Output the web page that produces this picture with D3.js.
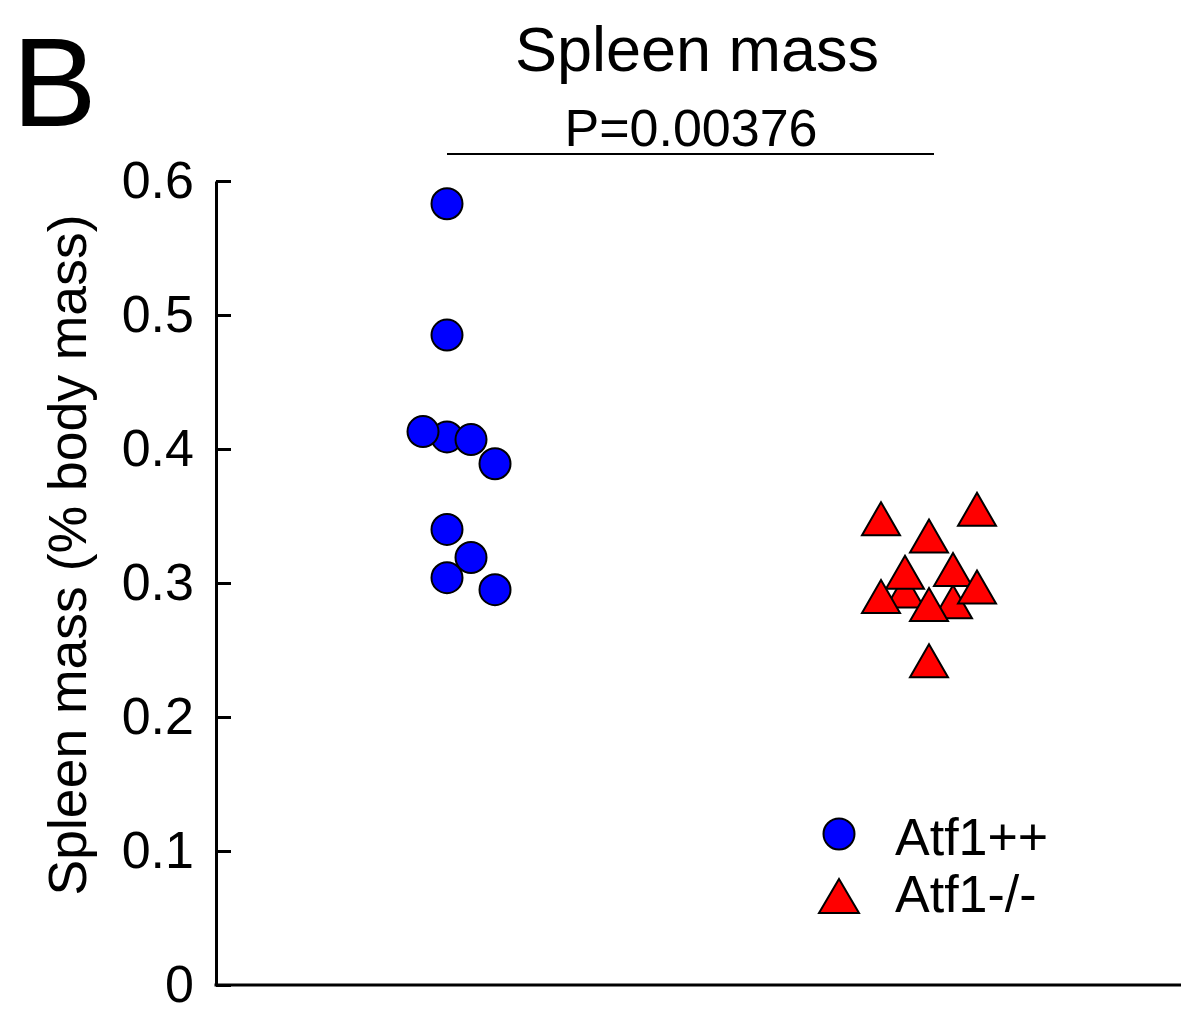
<!DOCTYPE html>
<html>
<head>
<meta charset="utf-8">
<script src="https://cdn.jsdelivr.net/npm/d3@7"></script>
<style>
  html, body { margin: 0; padding: 0; background: #fff; }
  svg { display: block; font-family: "Liberation Sans", Arial, Helvetica, sans-serif; }
</style>
</head>
<body>
<svg id="chart" width="1194" height="1021"></svg>
<script>
// ---- data ----
const categories = ["Atf1++", "Atf1-/-"];
// Atf1++ (blue circles), drawn in this order (first = behind)
const wtValues = [0.409, 0.583, 0.485, 0.413, 0.407, 0.389, 0.340, 0.319, 0.304, 0.295];
const wtSlots  = [0, 0, 0, -1, 1, 2, 0, 1, 0, 2];
// Atf1-/- (red triangles)
const koValues = [0.294, 0.286, 0.348, 0.355, 0.335, 0.308, 0.310, 0.297, 0.290, 0.284, 0.242];
const koSlots  = [-1, 1, -2, 2, 0, -1, 1, 2, -2, 0, 0];
const yTicks = [0, 0.1, 0.2, 0.3, 0.4, 0.5, 0.6];
const yTickLabels = ["0", "0.1", "0.2", "0.3", "0.4", "0.5", "0.6"];
const pText = "P=0.00376";

// ---- layout ----
const svg = d3.select("#chart");
const axisX = 216, axisY = 985, axisTop = 181, axisRight = 1181;
const slotStep = 24;

const y = d3.scaleLinear().domain([0, 0.6]).range([axisY, axisTop]);
const x = d3.scalePoint().domain(categories).range([447, 929]);

// panel letter
svg.append("text").attr("x", 12).attr("y", 126)
  .attr("font-size", 127).text("B");

// title
svg.append("text").attr("x", 697).attr("y", 71)
  .attr("text-anchor", "middle").attr("font-size", 63).text("Spleen mass");

// significance bar
svg.append("text").attr("x", 691).attr("y", 146)
  .attr("text-anchor", "middle").attr("font-size", 52).text(pText);
svg.append("line")
  .attr("x1", x(categories[0])).attr("x2", x(categories[1]) + 5)
  .attr("y1", 154).attr("y2", 154)
  .attr("stroke", "#000").attr("stroke-width", 2);

// y axis
const yAxis = d3.axisLeft(y).tickValues(yTicks)
  .tickFormat((d, i) => yTickLabels[i])
  .tickSizeInner(-15).tickSizeOuter(0).tickPadding(22);
const gy = svg.append("g").attr("transform", `translate(${axisX},0)`).call(yAxis);
gy.select(".domain").attr("stroke-width", 3);
gy.selectAll(".tick line").attr("stroke-width", 3);
gy.selectAll(".tick text").attr("font-size", 52).attr("fill", "#000")
  .attr("font-family", "'Liberation Sans', Arial, sans-serif");

// x axis line
svg.append("line").attr("x1", axisX - 1.5).attr("x2", axisRight)
  .attr("y1", axisY).attr("y2", axisY)
  .attr("stroke", "#000").attr("stroke-width", 3);

// y label
svg.append("text")
  .attr("transform", `translate(86,555) rotate(-90)`)
  .attr("text-anchor", "middle").attr("font-size", 53.5)
  .text("Spleen mass (% body mass)");

// markers
const triSide = 38, triH = 33;
const triPath = (cx, cy, s, h) =>
  `M${cx},${cy - h / 2}L${cx + s / 2},${cy + h / 2}L${cx - s / 2},${cy + h / 2}Z`;

svg.append("g").selectAll("circle")
  .data(wtValues.map((v, i) => ({ v, s: wtSlots[i] })))
  .join("circle")
  .attr("cx", d => x(categories[0]) + d.s * slotStep)
  .attr("cy", d => y(d.v))
  .attr("r", 15.5)
  .attr("fill", "#0000ff").attr("stroke", "#000").attr("stroke-width", 2);

svg.append("g").selectAll("path")
  .data(koValues.map((v, i) => ({ v, s: koSlots[i] })))
  .join("path")
  .attr("d", d => triPath(x(categories[1]) + d.s * slotStep, y(d.v), triSide, triH))
  .attr("fill", "#ff0000").attr("stroke", "#000").attr("stroke-width", 2)
  .attr("stroke-linejoin", "miter");

// legend
const leg = svg.append("g");
leg.append("circle").attr("cx", 839).attr("cy", 834).attr("r", 15.5)
  .attr("fill", "#0000ff").attr("stroke", "#000").attr("stroke-width", 2);
leg.append("path").attr("d", triPath(839, 896, 40, 34))
  .attr("fill", "#ff0000").attr("stroke", "#000").attr("stroke-width", 2);
leg.append("text").attr("x", 895).attr("y", 855).attr("font-size", 52).text(categories[0]);
leg.append("text").attr("x", 895).attr("y", 912).attr("font-size", 52).text(categories[1]);
</script>
</body>
</html>
